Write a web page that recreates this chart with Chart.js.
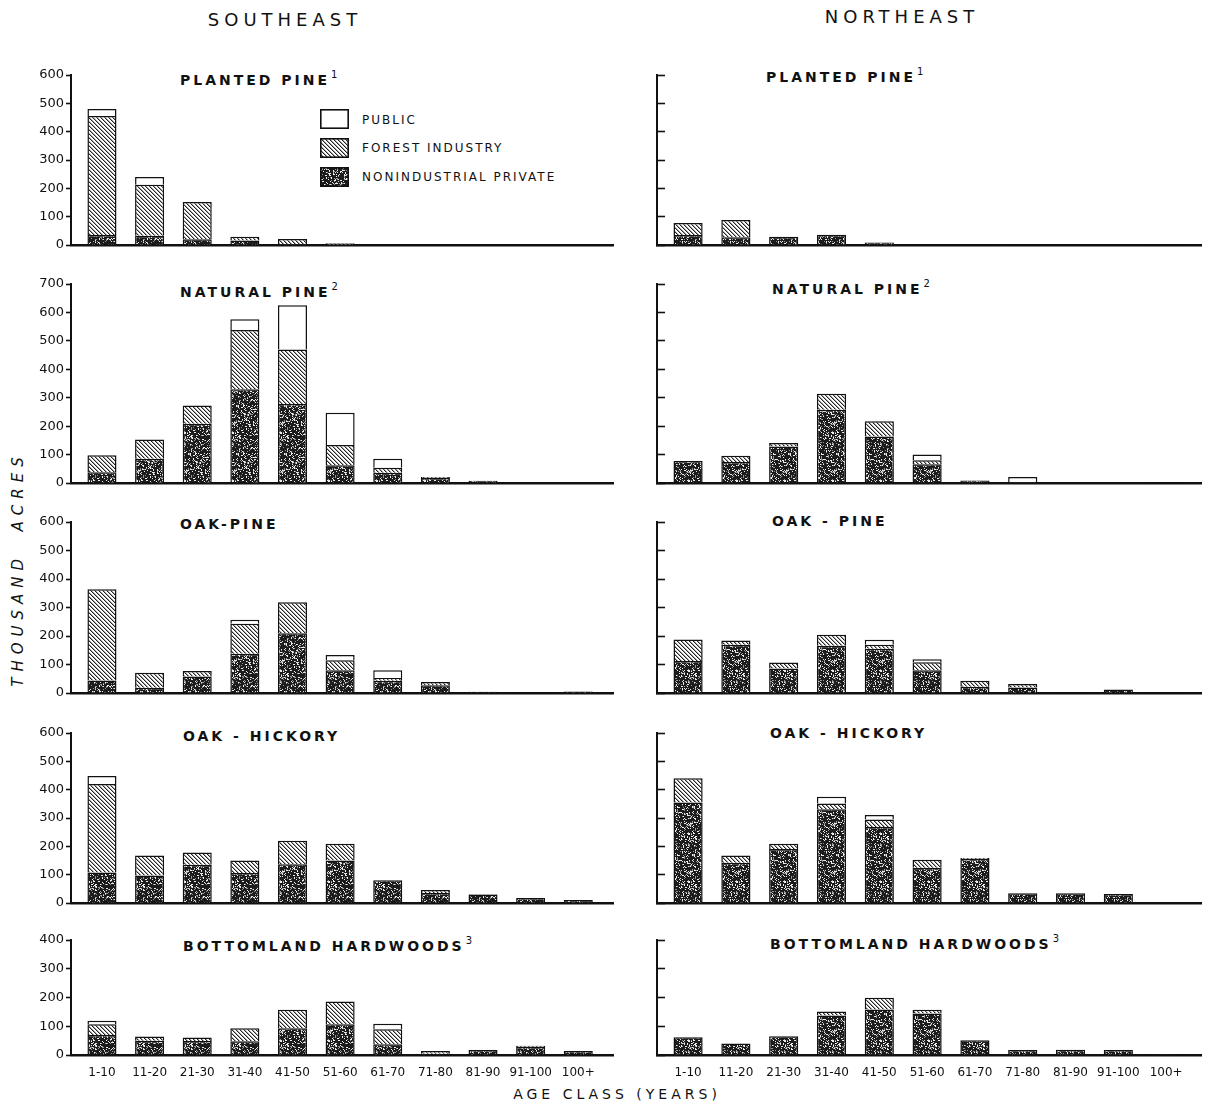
<!DOCTYPE html>
<html>
<head>
<meta charset="utf-8">
<title>Timberland area by age class and ownership</title>
<script src="https://cdn.jsdelivr.net/npm/chart.js@4.4.1/dist/chart.umd.min.js"></script>
<style>
  html, body { margin: 0; padding: 0; background: #fff; }
  #page { position: relative; width: 1209px; height: 1102px; overflow: hidden;
          font-family: "DejaVu Sans", sans-serif; color: #111; }
  #page canvas { position: absolute; }
  .t { position: absolute; white-space: nowrap; line-height: 1; }
  .region { font-size: 18px; letter-spacing: 5px; transform: translate(-50%, -50%); }
  .ptitle { font-weight: bold; font-size: 14px; letter-spacing: 3px; transform: translateY(-50%); }
  .ptitle sup { font-size: 10px; font-weight: normal; letter-spacing: 0; vertical-align: 7px; margin-left: 1px; }
  .leg { font-size: 12px; letter-spacing: 2px; transform: translateY(-50%); }
  .axisname { font-size: 14px; letter-spacing: 4px; transform: translate(-50%, -50%); }
  .yname { font-size: 15px; font-style: italic; letter-spacing: 6px;
           transform: translate(-50%, -50%) rotate(-90deg); }
</style>
</head>
<body>
<div id="page">
  <div class="t region" style="left:285px; top:20px;">SOUTHEAST</div>
  <div class="t region" style="left:902px; top:17px;">NORTHEAST</div>

  <div class="t ptitle" style="left:180px; top:78px;">PLANTED PINE<sup>1</sup></div>
  <div class="t ptitle" style="left:180px; top:290px;">NATURAL PINE<sup>2</sup></div>
  <div class="t ptitle" style="left:180px; top:524px;">OAK-PINE</div>
  <div class="t ptitle" style="left:183px; top:736px;">OAK - HICKORY</div>
  <div class="t ptitle" style="left:183px; top:944px;">BOTTOMLAND HARDWOODS<sup>3</sup></div>

  <div class="t ptitle" style="left:766px; top:75px;">PLANTED PINE<sup>1</sup></div>
  <div class="t ptitle" style="left:772px; top:287px;">NATURAL PINE<sup>2</sup></div>
  <div class="t ptitle" style="left:772px; top:521px;">OAK - PINE</div>
  <div class="t ptitle" style="left:770px; top:733px;">OAK - HICKORY</div>
  <div class="t ptitle" style="left:770px; top:942px;">BOTTOMLAND HARDWOODS<sup>3</sup></div>

  <canvas id="swPublic" width="29" height="20" style="left:320px; top:109px;"></canvas>
  <canvas id="swIndustry" width="29" height="20" style="left:320px; top:138px;"></canvas>
  <canvas id="swPrivate" width="29" height="20" style="left:320px; top:167px;"></canvas>
  <div class="t leg" style="left:362px; top:120px;">PUBLIC</div>
  <div class="t leg" style="left:362px; top:148px;">FOREST INDUSTRY</div>
  <div class="t leg" style="left:362px; top:177px;">NONINDUSTRIAL PRIVATE</div>

  <div class="t yname" style="left:18px; top:569px;">THOUSAND&nbsp; ACRES</div>
  <div class="t axisname" style="left:617px; top:1094px;">AGE CLASS (YEARS)</div>
</div>

<script>
// Age classes along the horizontal axis
const ageClasses = ['1-10', '11-20', '21-30', '31-40', '41-50', '51-60', '61-70', '71-80', '81-90', '91-100', '100+'];

// Upper end of the vertical axis for each forest type (thousand acres)
const rowAxisMax = [600, 700, 600, 600, 400];
const yTickStep = 100;

// ---- Southeast, thousand acres ----
const sePlantedPrivate   = [35, 33, 20, 16, 3, 2, 2, 2, 2, 2, 2];
const sePlantedIndustry  = [420, 180, 132, 13, 18, 4, 0, 0, 0, 0, 0];
const sePlantedPublic    = [25, 27, 0, 0, 0, 0, 0, 0, 0, 0, 0];

const seNaturalPrivate   = [38, 85, 208, 330, 278, 62, 36, 18, 8, 2, 2];
const seNaturalIndustry  = [60, 68, 65, 208, 192, 72, 18, 3, 0, 0, 0];
const seNaturalPublic    = [0, 0, 0, 38, 155, 113, 31, 0, 0, 0, 0];

const seOakPinePrivate   = [44, 18, 58, 138, 210, 80, 43, 27, 4, 1, 5];
const seOakPineIndustry  = [320, 53, 19, 105, 108, 35, 10, 12, 0, 0, 0];
const seOakPinePublic    = [0, 0, 0, 14, 0, 18, 27, 0, 0, 0, 0];

const seOakHickPrivate   = [108, 97, 135, 106, 137, 150, 80, 35, 30, 18, 11];
const seOakHickIndustry  = [312, 71, 43, 44, 83, 59, 0, 11, 2, 0, 0];
const seOakHickPublic    = [28, 0, 0, 0, 0, 0, 0, 0, 0, 0, 0];

const seBottomPrivate    = [70, 50, 49, 48, 93, 107, 37, 4, 17, 28, 14];
const seBottomIndustry   = [37, 14, 12, 45, 64, 79, 53, 10, 0, 4, 0];
const seBottomPublic     = [12, 0, 0, 0, 0, 0, 19, 0, 0, 0, 0];

// ---- Northeast, thousand acres ----
const nePlantedPrivate   = [35, 27, 29, 36, 9, 2, 1, 1, 2, 2, 1];
const nePlantedIndustry  = [43, 61, 0, 0, 0, 0, 0, 0, 0, 0, 0];
const nePlantedPublic    = [0, 0, 0, 0, 0, 0, 0, 0, 0, 0, 0];

const neNaturalPrivate   = [77, 74, 128, 258, 164, 66, 9, 3, 2, 2, 1];
const neNaturalIndustry  = [0, 22, 13, 56, 53, 14, 0, 0, 0, 0, 0];
const neNaturalPublic    = [0, 0, 0, 0, 0, 20, 0, 18, 0, 0, 0];

const neOakPinePrivate   = [112, 169, 86, 166, 155, 80, 22, 19, 1, 12, 1];
const neOakPineIndustry  = [76, 15, 21, 38, 14, 28, 21, 13, 0, 0, 0];
const neOakPinePublic    = [0, 0, 0, 0, 18, 10, 0, 0, 0, 0, 0];

const neOakHickPrivate   = [355, 142, 191, 331, 268, 124, 155, 34, 34, 32, 0];
const neOakHickIndustry  = [85, 26, 18, 20, 27, 29, 4, 0, 0, 0, 0];
const neOakHickPublic    = [0, 0, 0, 24, 16, 0, 0, 0, 0, 0, 0];

const neBottomPrivate    = [62, 40, 65, 137, 158, 144, 51, 17, 18, 17, 3];
const neBottomIndustry   = [0, 0, 0, 14, 41, 13, 0, 0, 0, 0, 0];
const neBottomPublic     = [0, 0, 0, 0, 0, 0, 0, 0, 0, 0, 0];

const ownerNames = ['Nonindustrial private', 'Forest industry', 'Public'];

// Panel grid: [column, row, private, industry, public]
const panelSeries = [
  [0, 0, sePlantedPrivate, sePlantedIndustry, sePlantedPublic],
  [0, 1, seNaturalPrivate, seNaturalIndustry, seNaturalPublic],
  [0, 2, seOakPinePrivate, seOakPineIndustry, seOakPinePublic],
  [0, 3, seOakHickPrivate, seOakHickIndustry, seOakHickPublic],
  [0, 4, seBottomPrivate, seBottomIndustry, seBottomPublic],
  [1, 0, nePlantedPrivate, nePlantedIndustry, nePlantedPublic],
  [1, 1, neNaturalPrivate, neNaturalIndustry, neNaturalPublic],
  [1, 2, neOakPinePrivate, neOakPineIndustry, neOakPinePublic],
  [1, 3, neOakHickPrivate, neOakHickIndustry, neOakHickPublic],
  [1, 4, neBottomPrivate, neBottomIndustry, neBottomPublic]
];

// ---- page geometry ----
const rowFrame = [            // pixel rows of the axis top and of the zero line
  { top: 75,  zero: 245 },
  { top: 284, zero: 483 },
  { top: 522, zero: 693 },
  { top: 733, zero: 903 },
  { top: 940, zero: 1055 }
];
const colFrame = [
  { canvasLeft: 0,   width: 614, axisWidth: 71 },
  { canvasLeft: 600, width: 602, axisWidth: 57 }
];
const PAD_TOP = 10;

// ---- fill textures ----
function makeTile(size, shade) {
  const c = document.createElement('canvas');
  c.width = c.height = size;
  const g = c.getContext('2d');
  const img = g.createImageData(size, size);
  for (let y = 0; y < size; y++) {
    for (let x = 0; x < size; x++) {
      const v = shade(x, y);
      const k = (y * size + x) * 4;
      img.data[k] = img.data[k + 1] = img.data[k + 2] = v;
      img.data[k + 3] = 255;
    }
  }
  g.putImageData(img, 0, 0);
  return c;
}
function speck(x, y) {
  let h = Math.imul(x + 11, 374761393) ^ Math.imul(y + 3, 668265263);
  h = Math.imul(h ^ (h >>> 13), 1274126177);
  h ^= h >>> 16;
  return (h >>> 0) / 4294967296;
}
const stippleTile = makeTile(48, (x, y) => {
  const r = speck(x, y);
  if (r < 0.16) return 235;
  if (r < 0.27) return 150;
  return 28;
});
const hatchTile = makeTile(4, (x, y) => {
  const d = ((x - y) % 4 + 4) % 4;
  return d === 0 ? 35 : (d === 1 ? 165 : 255);
});

function fills(ctx) {
  return [ctx.createPattern(stippleTile, 'repeat'), ctx.createPattern(hatchTile, 'repeat'), '#ffffff'];
}

// ---- legend swatches ----
[['swPrivate', 0], ['swIndustry', 1], ['swPublic', 2]].forEach(([id, k]) => {
  const cv = document.getElementById(id);
  const g = cv.getContext('2d');
  g.fillStyle = fills(g)[k];
  g.fillRect(0, 0, cv.width, cv.height);
  g.strokeStyle = '#111';
  g.lineWidth = 1.6;
  g.strokeRect(0.8, 0.8, cv.width - 1.6, cv.height - 1.6);
});

// ---- panels ----
const page = document.getElementById('page');
const bottomRow = rowFrame.length - 1;

panelSeries.forEach(([col, row, priv, ind, pub]) => {
  const cf = colFrame[col];
  const rf = rowFrame[row];
  const isLeft = col === 0;
  const isBottom = row === bottomRow;
  const xAxisHeight = isBottom ? 40 : 10;

  const cv = document.createElement('canvas');
  cv.width = cf.width;
  cv.height = rf.zero - rf.top + PAD_TOP + xAxisHeight;
  cv.style.left = cf.canvasLeft + 'px';
  cv.style.top = (rf.top - PAD_TOP) + 'px';
  cv.style.width = cv.width + 'px';
  cv.style.height = cv.height + 'px';
  page.appendChild(cv);

  const ctx = cv.getContext('2d');
  const pats = fills(ctx);
  const toPoints = arr => arr.map((v, i) => ({ x: i, y: v === 0 ? null : v }));

  const datasets = [priv, ind, pub].map((arr, k) => ({
    label: ownerNames[k],
    data: toPoints(arr),
    backgroundColor: pats[k],
    borderColor: '#111',
    borderWidth: 1.5,
    borderSkipped: 'start',
    barPercentage: 0.61,
    categoryPercentage: 1
  }));

  new Chart(ctx, {
    type: 'bar',
    data: { datasets },
    options: {
      responsive: false,
      animation: false,
      devicePixelRatio: 1,
      layout: { padding: { top: PAD_TOP, left: 0, right: 0, bottom: 0 } },
      plugins: { legend: { display: false }, tooltip: { enabled: false }, title: { display: false } },
      scales: {
        x: {
          type: 'linear',
          offset: false,
          stacked: true,
          min: -0.65,
          max: 10.75,
          grid: { display: false, drawTicks: false, offset: false },
          border: { display: true, color: '#111', width: 2.5 },
          ticks: {
            display: isBottom,
            autoSkip: false,
            maxRotation: 0,
            padding: 11,
            color: '#111',
            font: { family: 'DejaVu Sans', size: 12 },
            callback: v => (Number.isInteger(v) && ageClasses[v] !== undefined) ? ageClasses[v] : ''
          },
          afterBuildTicks: axis => { axis.ticks = ageClasses.map((_, i) => ({ value: i })); },
          afterFit: axis => { axis.height = xAxisHeight; }
        },
        y: {
          stacked: true,
          min: 0,
          max: rowAxisMax[row],
          grid: {
            drawOnChartArea: false,
            drawTicks: true,
            tickLength: isLeft ? 5 : -8,
            tickColor: '#111',
            tickWidth: 1.6
          },
          border: { display: true, color: '#111', width: 2 },
          ticks: {
            display: isLeft,
            stepSize: yTickStep,
            padding: 2,
            color: '#111',
            font: { family: 'DejaVu Sans', size: 13 }
          },
          afterFit: axis => { axis.width = cf.axisWidth; }
        }
      }
    }
  });
});
</script>
</body>
</html>
